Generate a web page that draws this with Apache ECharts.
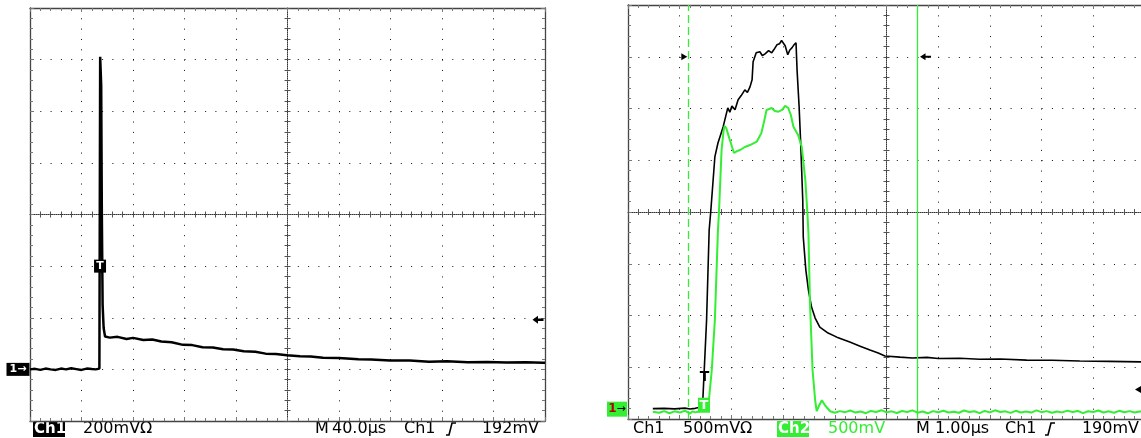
<!DOCTYPE html>
<html>
<head>
<meta charset="utf-8">
<script src="https://cdn.jsdelivr.net/npm/echarts@6/dist/echarts.min.js"></script>
<style>
html,body{margin:0;padding:0;background:#fff;}
#c{width:1141px;height:438px;}
</style>
</head>
<body>
<div id="c"></div>
<script>
// ---------- DATA ----------
// Left screen: Ch1, 200 mV/div, 40 us/div (time from left edge of screen, volts above Ch1 ground)
const leftTimeUs = [0, 4, 8, 12, 16, 20, 24, 28, 32, 36, 40, 44, 48, 51, 53.9, 54.5, 55.3, 55.8, 56.4, 57.2, 58.3,
  62, 68, 75, 80, 88, 95, 102, 110, 118.8, 126, 134, 142, 150, 157.7, 166, 175, 183, 191, 199.6, 209.7,
  218, 227.6, 240, 255, 265, 279.6, 295, 310, 323.9, 340, 355, 370, 385, 398.4, 400];
const leftCh1mV = [0, 2, -2, 3, 0, -2, 3, 0, 4, 1, -2, 3, 1, 0, 3, 1211, 1100, 600, 250, 160, 127,
  123, 126, 118, 122, 114, 116, 108, 105, 95, 94, 86, 85, 78, 77, 70, 68, 61, 60, 55, 51,
  50, 45, 44, 39, 38, 34, 34, 30, 31, 28, 29, 27, 28, 26, 26];

// Right screen: Ch1 (black) and Ch2 (green), 500 mV/div, 1.00 us/div
const rightTime1Us = [0.48, 0.7, 0.9, 1.1, 1.2, 1.3, 1.39, 1.45, 1.52, 1.57, 1.60, 1.68, 1.74, 1.84, 1.93, 1.97, 2.01,
  2.07, 2.13, 2.19, 2.26, 2.31, 2.36, 2.40, 2.42, 2.48, 2.55, 2.60, 2.65, 2.72, 2.78, 2.82, 2.88, 2.93, 2.97,
  3.04, 3.09, 3.13, 3.17, 3.21, 3.25, 3.27, 3.31, 3.34, 3.38, 3.39, 3.44, 3.49, 3.55, 3.62, 3.71, 3.87, 4.04,
  4.29, 4.49, 4.68, 4.84, 4.97, 5.26, 5.5, 5.78, 6.0, 6.42, 6.8, 7.2, 7.71, 8.2, 8.74, 9.3, 9.92, 10.0];
const rightCh1mV = [5, 8, 3, 10, 2, 8, 19, 116, 861, 1731, 1905, 2437, 2572, 2727, 2911, 2870, 2930,
  2892, 2989, 3030, 3085, 3060, 3114, 3182, 3356, 3443, 3453, 3415, 3433, 3465, 3443, 3472, 3520, 3530, 3562,
  3511, 3424, 3470, 3491, 3520, 3540, 3278, 2921, 2572, 2021, 1663, 1344, 1151, 986, 880, 793, 735, 696,
  648, 609, 571, 542, 513, 503, 495, 500, 490, 492, 482, 485, 474, 472, 466, 462, 457, 455];

const rightTime2Us = [0.48, 0.6, 0.7, 0.8, 0.9, 1.0, 1.1, 1.2, 1.25, 1.3, 1.39, 1.45, 1.5, 1.55, 1.62, 1.68, 1.74, 1.76,
  1.81, 1.85, 1.87, 1.90, 1.97, 2.05, 2.11, 2.17, 2.26, 2.36, 2.49, 2.58, 2.63, 2.68, 2.78, 2.84, 2.91, 2.98,
  3.04, 3.10, 3.15, 3.20, 3.29, 3.36, 3.43, 3.47, 3.49, 3.52, 3.57, 3.62, 3.65, 3.69, 3.75, 3.78, 3.81, 3.91,
  4.0, 4.1, 4.2, 4.3, 4.4, 4.5, 4.6, 4.7, 4.8, 4.9, 5.0, 5.1, 5.2, 5.3, 5.4, 5.5, 5.6, 5.7, 5.8, 5.9,
  6.0, 6.1, 6.2, 6.3, 6.4, 6.5, 6.6, 6.7, 6.8, 6.9, 7.0, 7.1, 7.2, 7.3, 7.4, 7.5, 7.6, 7.7, 7.8, 7.9,
  8.0, 8.1, 8.2, 8.3, 8.4, 8.5, 8.6, 8.7, 8.8, 8.9, 9.0, 9.1, 9.2, 9.3, 9.4, 9.5, 9.6, 9.7, 9.8, 9.9, 10.0];
const rightCh2mV = [0, -10, 6, -14, 4, -8, 10, -18, 4, -6, 5, 20, 30, 34, 401, 885, 1755, 1929,
  2529, 2722, 2761, 2741, 2625, 2500, 2519, 2529, 2558, 2577, 2609, 2693, 2800, 2916, 2935, 2906, 2899, 2916,
  2955, 2935, 2867, 2754, 2674, 2561, 2239, 1920, 1726, 1049, 401, 111, 5, 53, 111, 92, 63, 5,
  -10, 6, -4, 12, -8, 2, -14, 8, -3, 15, -6, 4, -12, 7, -2, 13, -9, 3, -15, 6,
  -4, 10, -7, 1, -10, 12, -3, 5, -13, 8, -6, 14, -2, 4, -11, 9, -7, 3, -8, 13,
  -4, 6, -10, 2, -6, 11, -3, 8, -13, 5, -2, 12, -7, 4, -10, 9, -4, 6, -8, 3, 0];

const cursorTimesUs = [1.166, 5.60];          // vertical cursors (dashed, solid)
const cursorArrowMv = 3405;                    // Ch1 level of the cursor arrows
const leftTriggerMv = 192, rightTriggerMv = 190;
const leftTrigMarkUs = 54.4, leftTrigMarkMv = 400;
const rightTrigMarkUs = 1.48, rightTrigMarkMv = 305;
const rightTrigMark2Us = 1.47, rightTrigMark2Mv = 63;

// scope settings
const leftMvPerDiv = 200, leftUsPerDiv = 40, leftGroundDiv = -3.0;
const rightMvPerDiv = 500, rightUsPerDiv = 1, rightGround1Div = -3.81, rightGround2Div = -3.86;

// readout texts
const leftReadout = ['Ch1', '200mV\u03A9', 'M', '40.0\u00B5s', 'Ch1', '192mV'];
const rightReadout = ['Ch1', '500mV\u03A9', 'Ch2', '500mV', 'M', '1.00\u00B5s', 'Ch1', '190mV'];

// ---------- BUILD ----------
const tL = t => t / leftUsPerDiv - 5;
const vL = v => v / leftMvPerDiv + leftGroundDiv;
const tR = t => t / rightUsPerDiv - 5;
const vR1 = v => v / rightMvPerDiv + rightGround1Div;
const vR2 = v => v / rightMvPerDiv + rightGround2Div;

const leftData = leftTimeUs.map((t, i) => [tL(t), vL(leftCh1mV[i])]);
const right1Data = rightTime1Us.map((t, i) => [tR(t), vR1(rightCh1mV[i])]);
const right2Data = rightTime2Us.map((t, i) => [tR(t), vR2(rightCh2mV[i])]);

const GREEN = '#33ee33';
const grids = [
  {left: 30, top: 8, width: 515, height: 413},
  {left: 628, top: 5, width: 517, height: 414}
];

const xAxes = [], yAxes = [];
grids.forEach((g, gi) => {
  const dx = g.width / 50, dy = g.height / 40;
  const border = {show: true, onZero: false, lineStyle: {color: '#444', width: 1.3}};
  const bTick = {show: true, inside: true, length: 4, lineStyle: {color: '#777', width: 1}};
  const bMinor = {show: true, splitNumber: 5, length: 3, lineStyle: {color: '#777', width: 1}};
  const base = {gridIndex: gi, type: 'value', interval: 1, axisLabel: {show: false}, silent: true};
  xAxes.push(Object.assign({}, base, {min: -5, max: 5, position: 'bottom', axisLine: border, axisTick: bTick, minorTick: bMinor,
    splitLine: {show: true, lineStyle: {color: '#111', width: 1, type: [1, dy - 1]}}}));
  xAxes.push(Object.assign({}, base, {min: -5, max: 5, position: 'top', axisLine: border, axisTick: bTick, minorTick: bMinor, splitLine: {show: false}}));
  xAxes.push(Object.assign({}, base, {min: -5, max: 5, position: 'bottom',
    axisLine: {show: true, onZero: true, lineStyle: {color: '#333', width: 1, type: [1, 1]}},
    axisTick: {show: true, inside: true, length: 3, lineStyle: {color: '#555'}},
    minorTick: {show: true, splitNumber: 5, length: 3, lineStyle: {color: '#555'}}, splitLine: {show: false}}));
  xAxes.push(Object.assign({}, base, {min: -5, max: 5, position: 'bottom',
    axisLine: {show: false, onZero: true},
    axisTick: {show: true, inside: false, length: 3, lineStyle: {color: '#555'}},
    minorTick: {show: true, splitNumber: 5, length: 3, lineStyle: {color: '#555'}}, splitLine: {show: false}}));
  yAxes.push(Object.assign({}, base, {min: -4, max: 4, position: 'left', axisLine: border, axisTick: bTick, minorTick: bMinor,
    splitLine: {show: true, lineStyle: {color: '#111', width: 1, type: [1, dx - 1]}}}));
  yAxes.push(Object.assign({}, base, {min: -4, max: 4, position: 'right', axisLine: border, axisTick: bTick, minorTick: bMinor, splitLine: {show: false}}));
  yAxes.push(Object.assign({}, base, {min: -4, max: 4, position: 'left',
    axisLine: {show: true, onZero: true, lineStyle: {color: '#333', width: 1, type: [1, 1]}},
    axisTick: {show: true, inside: true, length: 3, lineStyle: {color: '#555'}},
    minorTick: {show: true, splitNumber: 5, length: 3, lineStyle: {color: '#555'}}, splitLine: {show: false}}));
  yAxes.push(Object.assign({}, base, {min: -4, max: 4, position: 'left',
    axisLine: {show: false, onZero: true},
    axisTick: {show: true, inside: false, length: 3, lineStyle: {color: '#555'}},
    minorTick: {show: true, splitNumber: 5, length: 3, lineStyle: {color: '#555'}}, splitLine: {show: false}}));
});

const arrowLeftPath = 'path://M0,5 L6,0 L6,3.5 L12,3.5 L12,6.5 L6,6.5 L6,10 Z';
const arrowRightHead = 'path://M0,0 L6,4 L0,8 Z';
const hiddenSym = {symbol: 'rect', symbolSize: [1, 1], itemStyle: {color: 'rgba(0,0,0,0)'}};

const series = [
  {
    name: 'Ch1 left', type: 'line', xAxisIndex: 0, yAxisIndex: 0, data: leftData,
    showSymbol: false, symbol: 'none', sampling: null, animation: false,
    lineStyle: {color: '#000', width: 2.5},
    markPoint: {
      animation: false, silent: true,
      data: [
        {coord: [-5, leftGroundDiv], symbol: 'rect', symbolSize: [23, 13], symbolOffset: [-12, 0],
          itemStyle: {color: '#000'},
          label: {show: true, formatter: '1\u2192', color: '#fff', fontSize: 11, fontWeight: 'bold', fontFamily: 'DejaVu Sans'}},
        {coord: [tL(leftTrigMarkUs), vL(leftTrigMarkMv)], symbol: 'rect', symbolSize: [12, 13],
          itemStyle: {color: '#000'},
          label: {show: true, formatter: 'T', color: '#fff', fontSize: 11, fontWeight: 'bold', fontFamily: 'DejaVu Sans'}},
        {coord: [5, vL(leftTriggerMv)], symbol: arrowLeftPath, symbolSize: [11, 8], symbolOffset: [-7, 0],
          symbolKeepAspect: false, itemStyle: {color: '#000'}, label: {show: false}}
      ]
    }
  },
  {
    name: 'Ch1 right', type: 'line', xAxisIndex: 4, yAxisIndex: 4, data: right1Data,
    showSymbol: false, symbol: 'none', sampling: null, animation: false,
    lineStyle: {color: '#000', width: 1.6},
    markPoint: {
      animation: false, silent: true,
      data: [
        Object.assign({coord: [tR(rightTrigMarkUs), vR1(rightTrigMarkMv)],
          label: {show: true, formatter: 'T', color: '#000', fontSize: 14, fontWeight: 'bold', fontFamily: 'DejaVu Sans'}}, hiddenSym),
        {coord: [5, vR1(rightTriggerMv)], symbol: 'triangle', symbolRotate: 90, symbolSize: [12, 10], symbolOffset: [-5, 0],
          itemStyle: {color: '#000'}, label: {show: false}},
        {coord: [tR(cursorTimesUs[0]), vR1(cursorArrowMv)], symbol: arrowRightHead, symbolSize: [6, 7], symbolOffset: [-4, 0],
          itemStyle: {color: '#000'}, label: {show: false}},
        {coord: [tR(cursorTimesUs[1]), vR1(cursorArrowMv)], symbol: arrowLeftPath, symbolSize: [11, 7], symbolOffset: [8, 0],
          itemStyle: {color: '#000'}, label: {show: false}}
      ]
    }
  },
  {
    name: 'Ch2 right', type: 'line', xAxisIndex: 4, yAxisIndex: 4, data: right2Data,
    showSymbol: false, symbol: 'none', sampling: null, animation: false,
    lineStyle: {color: GREEN, width: 2},
    markLine: {
      animation: false, silent: true, symbol: 'none', label: {show: false},
      data: [
        {xAxis: tR(cursorTimesUs[0]), lineStyle: {color: GREEN, width: 1.3, type: [8, 4]}},
        {xAxis: tR(cursorTimesUs[1]), lineStyle: {color: GREEN, width: 1.3, type: 'solid'}}
      ]
    },
    markPoint: {
      animation: false, silent: true,
      data: [
        {coord: [-5, rightGround1Div], symbol: 'rect', symbolSize: [20, 15], symbolOffset: [-11, 0],
          itemStyle: {color: GREEN},
          label: {show: true, formatter: '{a|1}{b|\u2192}', rich: {
            a: {color: '#b00000', fontSize: 12, fontWeight: 'bold', fontFamily: 'DejaVu Sans'},
            b: {color: '#000', fontSize: 11, fontFamily: 'DejaVu Sans'}}}},
        {coord: [tR(rightTrigMark2Us), vR2(rightTrigMark2Mv)], symbol: 'rect', symbolSize: [12, 15],
          itemStyle: {color: GREEN},
          label: {show: true, formatter: 'T', color: '#fff', fontSize: 13, fontWeight: 'bold', fontFamily: 'DejaVu Sans'}}
      ]
    }
  }
];

// bottom readouts
const FONT = '16px "DejaVu Sans"';
const TY = 429;
function txt(x, text, opts) {
  return Object.assign({type: 'text', x: x, y: TY, silent: true,
    style: Object.assign({text: text, font: FONT, fill: '#000', textVerticalAlign: 'middle', textAlign: 'left'}, opts || {})});
}
function stepSym(x) {
  return {type: 'polyline', silent: true, shape: {points: [[x, 435], [x + 3, 435], [x + 6, 423], [x + 10, 423]]},
    style: {stroke: '#000', lineWidth: 1.6, fill: null}};
}
const graphics = [
  {type: 'rect', silent: true, shape: {x: 33, y: 421, width: 32, height: 16}, style: {fill: '#000'}},
  txt(34, leftReadout[0], {fill: '#fff', font: 'bold 15px "DejaVu Sans"'}),
  txt(83, leftReadout[1]),
  txt(315, leftReadout[2]),
  txt(332, leftReadout[3]),
  txt(404, leftReadout[4]),
  stepSym(446),
  txt(539, leftReadout[5], {textAlign: 'right'}),

  txt(633, rightReadout[0]),
  txt(683, rightReadout[1]),
  {type: 'rect', silent: true, shape: {x: 777, y: 421, width: 32, height: 16}, style: {fill: GREEN}},
  txt(778, rightReadout[2], {fill: '#fff', font: 'bold 15px "DejaVu Sans"'}),
  txt(828, rightReadout[3], {fill: GREEN}),
  txt(916, rightReadout[4]),
  txt(935, rightReadout[5]),
  txt(1005, rightReadout[6]),
  stepSym(1045),
  txt(1139, rightReadout[7], {textAlign: 'right'})
];

const chart = echarts.init(document.getElementById('c'), null, {renderer: 'canvas'});
chart.setOption({
  animation: false,
  backgroundColor: '#fff',
  grid: grids.map(g => Object.assign({containLabel: false, outerBoundsMode: 'none'}, g)),
  xAxis: xAxes,
  yAxis: yAxes,
  series: series,
  graphic: graphics
});
</script>
</body>
</html>
